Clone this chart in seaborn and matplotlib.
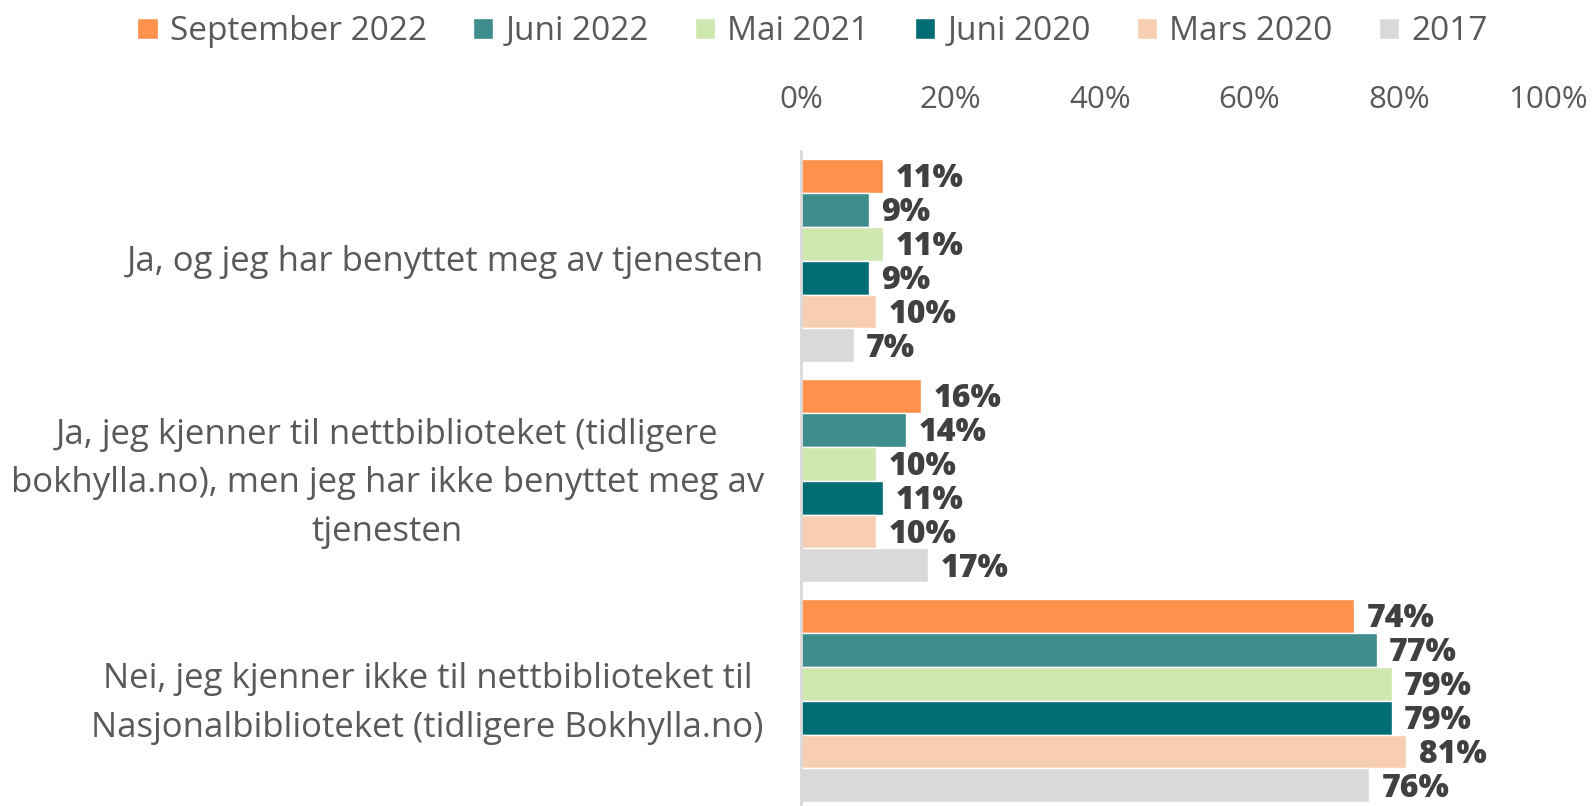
import matplotlib
matplotlib.use("Agg")
import matplotlib.pyplot as plt
import matplotlib.transforms as mtransforms
import seaborn as sns
import pandas as pd

categories = [
    "Ja, og jeg har benyttet meg av tjenesten",
    "Ja, jeg kjenner til nettbiblioteket (tidligere\nbokhylla.no), men jeg har ikke benyttet meg av\ntjenesten",
    "Nei, jeg kjenner ikke til nettbiblioteket til\nNasjonalbiblioteket (tidligere Bokhylla.no)",
]
series = ["September 2022", "Juni 2022", "Mai 2021", "Juni 2020", "Mars 2020", "2017"]
sep_2022 = [11, 16, 74]
jun_2022 = [9, 14, 77]
mai_2021 = [11, 10, 79]
jun_2020 = [9, 11, 79]
mar_2020 = [10, 10, 81]
y2017 = [7, 17, 76]
colors = ["#FF914D", "#3F8C8C", "#CFE8B0", "#026D74", "#F7CFB0", "#D9D9D9"]
xticks = [0, 20, 40, 60, 80, 100]

values = [sep_2022, jun_2022, mai_2021, jun_2020, mar_2020, y2017]
rows = []
for s, vals in zip(series, values):
    for c, v in zip(categories, vals):
        rows.append({"cat": c, "series": s, "value": v})
df = pd.DataFrame(rows)

sns.set_theme(style="white")
plt.rcParams["font.family"] = ["Open Sans", "DejaVu Sans"]

fig = plt.figure(figsize=(15.93, 8.06), dpi=100)
ax = fig.add_axes([0.503, 0.0, 0.469, 0.813])

sns.barplot(data=df, y="cat", x="value", hue="series", order=categories,
            hue_order=series, palette=colors, orient="h", width=0.924,
            saturation=1, ax=ax, legend=True)

for cont in ax.containers:
    anns = ax.bar_label(cont, labels=[f"{int(round(v))}%" for v in cont.datavalues],
                        padding=11, fontsize=23, fontweight=800, color="#404040")
    for a in anns:
        a.xyann = (9, -2.5)

ax.set_xlim(0, 100)
ax.set_ylim(2.479, -0.5)
ax.set_xticks(xticks)
ax.set_xticklabels([f"{t}%" for t in xticks])
ax.xaxis.tick_top()
ax.tick_params(axis="x", length=0, pad=26, labelsize=22.5, labelcolor="#595959")
ax.tick_params(axis="y", length=0, pad=27, labelsize=25, labelcolor="#595959")
for lab in ax.get_yticklabels():
    lab.set_multialignment("center")
    lab.set_linespacing(1.55)
    dy = 6 if "\n" in lab.get_text() else 2
    shift = mtransforms.ScaledTranslation(0, dy / 72, fig.dpi_scale_trans)
    lab.set_transform(lab.get_transform() + shift)
ax.set_xlabel("")
ax.set_ylabel("")
for side in ["top", "right", "bottom"]:
    ax.spines[side].set_visible(False)
ax.spines["left"].set_color("#D9D9D9")
ax.spines["left"].set_linewidth(2)
ax.grid(False)

handles, labels = ax.get_legend_handles_labels()
ax.get_legend().remove()
fig.legend(handles, labels, loc="center", bbox_to_anchor=(0.51, 0.961), ncol=6,
           frameon=False, fontsize=24, labelcolor="#595959", handlelength=0.61,
           handleheight=0.61, handletextpad=0.36, columnspacing=1.38)

fig.savefig("out.png", dpi=100)
